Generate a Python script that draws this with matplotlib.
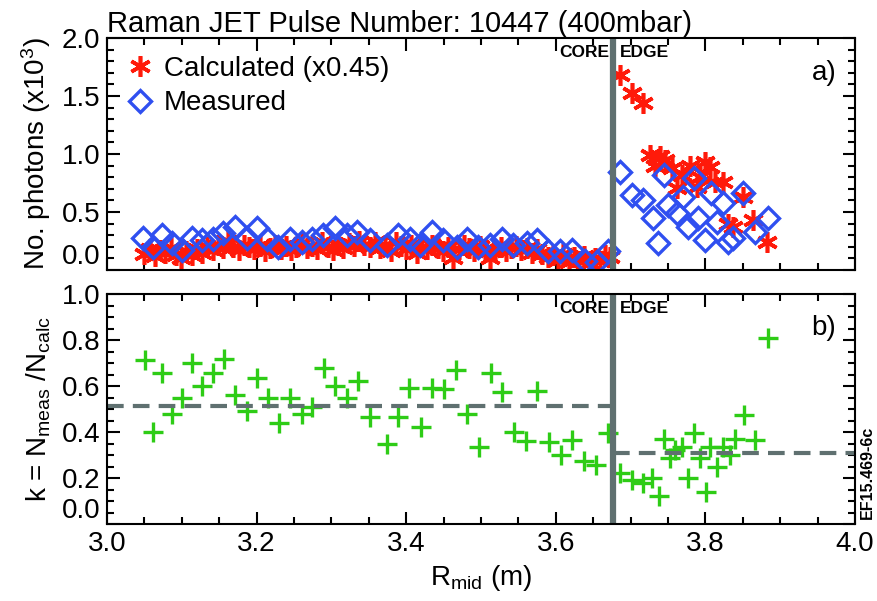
import matplotlib.pyplot as plt
from matplotlib.ticker import MultipleLocator, FormatStrFormatter

plt.rcParams['font.family'] = ['Liberation Sans', 'DejaVu Sans']
plt.rcParams['mathtext.fontset'] = 'custom'
plt.rcParams['mathtext.rm'] = 'Liberation Sans'
plt.rcParams['mathtext.it'] = 'Liberation Sans'

# boundary between core and edge (m)
r_boundary = 3.677

# Top panel: calculated (x0.45) photons, core region
calc_core_r = [3.050, 3.057, 3.064, 3.071, 3.078, 3.085, 3.092, 3.099, 3.106, 3.113,
               3.120, 3.127, 3.134, 3.141, 3.148, 3.155, 3.162, 3.169, 3.176, 3.183,
               3.190, 3.197, 3.204, 3.211, 3.218, 3.225, 3.232, 3.239, 3.246, 3.253,
               3.260, 3.267, 3.274, 3.281, 3.288, 3.295, 3.302, 3.309, 3.316, 3.323,
               3.330, 3.337, 3.344, 3.351, 3.358, 3.365, 3.372, 3.379, 3.386, 3.393,
               3.400, 3.407, 3.414, 3.421, 3.428, 3.435, 3.442, 3.449, 3.456, 3.463,
               3.470, 3.477, 3.484, 3.491, 3.498, 3.505, 3.512, 3.519, 3.526, 3.533,
               3.540, 3.547, 3.554, 3.561, 3.568, 3.575, 3.582, 3.589, 3.596, 3.603,
               3.610, 3.617, 3.624, 3.631, 3.638, 3.645, 3.652, 3.659, 3.666, 3.673]
calc_core_n = [0.14, 0.18, 0.12, 0.17, 0.15, 0.19, 0.13, 0.10, 0.16, 0.13,
               0.18, 0.15, 0.20, 0.17, 0.22, 0.19, 0.25, 0.20, 0.17, 0.22,
               0.20, 0.18, 0.21, 0.16, 0.19, 0.22, 0.18, 0.21, 0.17, 0.20,
               0.23, 0.19, 0.21, 0.18, 0.24, 0.20, 0.17, 0.22, 0.19, 0.23,
               0.21, 0.25, 0.22, 0.20, 0.24, 0.19, 0.22, 0.16, 0.24, 0.21,
               0.18, 0.22, 0.15, 0.20, 0.18, 0.22, 0.19, 0.16, 0.20, 0.10,
               0.18, 0.22, 0.19, 0.16, 0.21, 0.18, 0.10, 0.17, 0.20, 0.16,
               0.19, 0.21, 0.17, 0.19, 0.15, 0.18, 0.14, 0.11, 0.13, 0.09,
               0.14, 0.07, 0.11, 0.08, 0.12, 0.06, 0.10, 0.08, 0.13, 0.11]

# calculated, edge region
calc_edge_r = [3.686, 3.702, 3.717, 3.726, 3.733, 3.739, 3.746, 3.755, 3.762, 3.768,
               3.779, 3.789, 3.793, 3.800, 3.806, 3.813, 3.824, 3.830, 3.837, 3.850,
               3.864, 3.882]
calc_edge_n = [1.68, 1.53, 1.44, 0.99, 0.90, 0.98, 0.95, 0.88, 0.71, 0.82,
               0.90, 0.72, 0.80, 0.93, 0.89, 0.76, 0.76, 0.40, 0.37, 0.63,
               0.43, 0.24]

# measured photons
meas_r = [3.048, 3.061, 3.073, 3.087, 3.100, 3.114, 3.127, 3.142, 3.155, 3.171,
          3.187, 3.200, 3.214, 3.229, 3.245, 3.260, 3.274, 3.289, 3.305, 3.321,
          3.334, 3.352, 3.374, 3.389, 3.405, 3.418, 3.434, 3.449, 3.468, 3.481,
          3.496, 3.512, 3.528, 3.543, 3.561, 3.575, 3.590, 3.606, 3.622, 3.639,
          3.655, 3.670,
          3.686, 3.702, 3.717, 3.730, 3.737, 3.744, 3.750, 3.762, 3.770, 3.777,
          3.784, 3.790, 3.800, 3.808, 3.815, 3.824, 3.830, 3.837, 3.850, 3.866,
          3.884]
meas_n = [0.28, 0.20, 0.30, 0.23, 0.17, 0.28, 0.26, 0.27, 0.32, 0.37,
          0.28, 0.36, 0.27, 0.20, 0.27, 0.24, 0.27, 0.30, 0.36, 0.30,
          0.33, 0.26, 0.22, 0.30, 0.27, 0.22, 0.33, 0.26, 0.20, 0.27,
          0.20, 0.22, 0.27, 0.22, 0.23, 0.26, 0.16, 0.16, 0.17, 0.08,
          0.07, 0.16,
          0.845, 0.65, 0.60, 0.45, 0.23, 0.82, 0.56, 0.49, 0.63, 0.37,
          0.79, 0.45, 0.26, 0.66, 0.41, 0.58, 0.24, 0.28, 0.66, 0.33,
          0.45]

# Bottom panel: k = N_meas / N_calc
k_r = [3.051, 3.062, 3.073, 3.087, 3.100, 3.113, 3.127, 3.142, 3.156, 3.171,
       3.187, 3.200, 3.215, 3.230, 3.245, 3.260, 3.274, 3.290, 3.305, 3.321,
       3.336, 3.352, 3.374, 3.389, 3.404, 3.420, 3.434, 3.450, 3.467, 3.481,
       3.497, 3.513, 3.528, 3.544, 3.560, 3.575, 3.591, 3.607, 3.622, 3.638,
       3.654, 3.670,
       3.686, 3.702, 3.717, 3.728, 3.738, 3.744, 3.753, 3.759, 3.768, 3.776,
       3.784, 3.793, 3.801, 3.806, 3.815, 3.824, 3.833, 3.840, 3.852, 3.866,
       3.883]
k_val = [0.713, 0.40, 0.655, 0.48, 0.55, 0.70, 0.60, 0.655, 0.716, 0.56,
         0.49, 0.634, 0.55, 0.44, 0.55, 0.48, 0.51, 0.68, 0.60, 0.55,
         0.62, 0.465, 0.35, 0.465, 0.59, 0.42, 0.59, 0.585, 0.67, 0.48,
         0.335, 0.655, 0.575, 0.40, 0.36, 0.58, 0.355, 0.30, 0.365, 0.275,
         0.255, 0.395,
         0.22, 0.19, 0.18, 0.20, 0.12, 0.37, 0.285, 0.32, 0.335, 0.20,
         0.395, 0.285, 0.14, 0.335, 0.25, 0.335, 0.30, 0.37, 0.475, 0.365,
         0.81]

k_mean_core = 0.513
k_mean_edge = 0.309

xticks = [3.0, 3.2, 3.4, 3.6, 3.8, 4.0]
yticks_top = [0.0, 0.5, 1.0, 1.5, 2.0]
yticks_bot = [0.0, 0.2, 0.4, 0.6, 0.8, 1.0]

red = '#ff1a0a'
blue = '#2f4ff0'
green = '#2ecc16'
grey = '#5f7070'
fs = 20

fig = plt.figure(figsize=(8.78, 6.01), dpi=100)
ax1 = fig.add_axes([0.1219, 0.5507, 0.852, 0.386])
ax2 = fig.add_axes([0.1219, 0.1281, 0.852, 0.3827])

ax1.plot(calc_core_r + calc_edge_r, calc_core_n + calc_edge_n, linestyle='none',
         marker=(6, 2, 0), ms=15, mew=2.6, color=red, label='Calculated (x0.45)')
ax1.plot(meas_r, meas_n, linestyle='none', marker='D', ms=11.5, mew=2.4,
         mfc='none', mec=blue, label='Measured')
ax1.axvline(r_boundary, color=grey, lw=4.5)
ax1.set_xlim(3.0, 4.0)
ax1.set_ylim(0.0, 2.0)
ax1.set_yticks(yticks_top)
ax1.yaxis.set_minor_locator(MultipleLocator(0.1))
ax1.set_ylabel('No. photons (x10$^3$)', fontsize=fs, labelpad=6)
ax1.tick_params(labelbottom=False)
ax1.legend(loc='upper left', frameon=False, fontsize=fs, handletextpad=0.3,
           borderaxespad=0.1, borderpad=0.55, labelspacing=0.3, handlelength=1.1)
ax1.text(0.975, 0.82, 'a)', transform=ax1.transAxes, fontsize=fs, ha='right')
ax1.set_title('Raman JET Pulse Number: 10447 (400mbar)', loc='left', fontsize=21, pad=3)

ax2.plot(k_r, k_val, linestyle='none', marker='+', ms=15, mew=2.4, color=green)
ax2.plot([3.0, r_boundary], [k_mean_core, k_mean_core], color=grey, lw=3, ls=(0, (4, 2.2)))
ax2.plot([r_boundary, 4.0], [k_mean_edge, k_mean_edge], color=grey, lw=3, ls=(0, (4, 2.2)))
ax2.axvline(r_boundary, color=grey, lw=4.5)
ax2.set_xlim(3.0, 4.0)
ax2.set_ylim(0.0, 1.0)
ax2.set_yticks(yticks_bot)
ax2.yaxis.set_minor_locator(MultipleLocator(0.05))
ax2.set_ylabel('k = N$_{meas}$ /N$_{calc}$', fontsize=fs, labelpad=6)
ax2.set_xlabel('R$_{mid}$ (m)', fontsize=fs, labelpad=4)
ax2.text(0.975, 0.82, 'b)', transform=ax2.transAxes, fontsize=fs, ha='right')
ax2.text(1.006, 0.02, 'EF15.469-6c', transform=ax2.transAxes, fontsize=11.5,
         fontweight='bold', rotation=90, ha='left', va='bottom')

for ax in (ax1, ax2):
    ax.set_xticks(xticks)
    ax.xaxis.set_minor_locator(MultipleLocator(0.05))
    ax.xaxis.set_major_formatter(FormatStrFormatter('%.1f'))
    ax.yaxis.set_major_formatter(FormatStrFormatter('%.1f'))
    ax.tick_params(which='both', direction='in', top=True, right=True, labelsize=fs,
                   width=1.5, pad=5)
    ax.tick_params(which='major', length=9)
    ax.tick_params(which='minor', length=5)
    for s in ax.spines.values():
        s.set_linewidth(1.5)
    ax.text(r_boundary - 0.006, 0.97, 'CORE', transform=ax.get_xaxis_transform(),
            fontsize=12.5, fontweight='bold', ha='right', va='top')
    ax.text(r_boundary + 0.008, 0.97, 'EDGE', transform=ax.get_xaxis_transform(),
            fontsize=12.5, fontweight='bold', ha='left', va='top')
    # lowest y label sits above the axis corner
    ax.yaxis.get_major_ticks()[0].label1.set_va('bottom')

fig.savefig('out.png', dpi=100)
